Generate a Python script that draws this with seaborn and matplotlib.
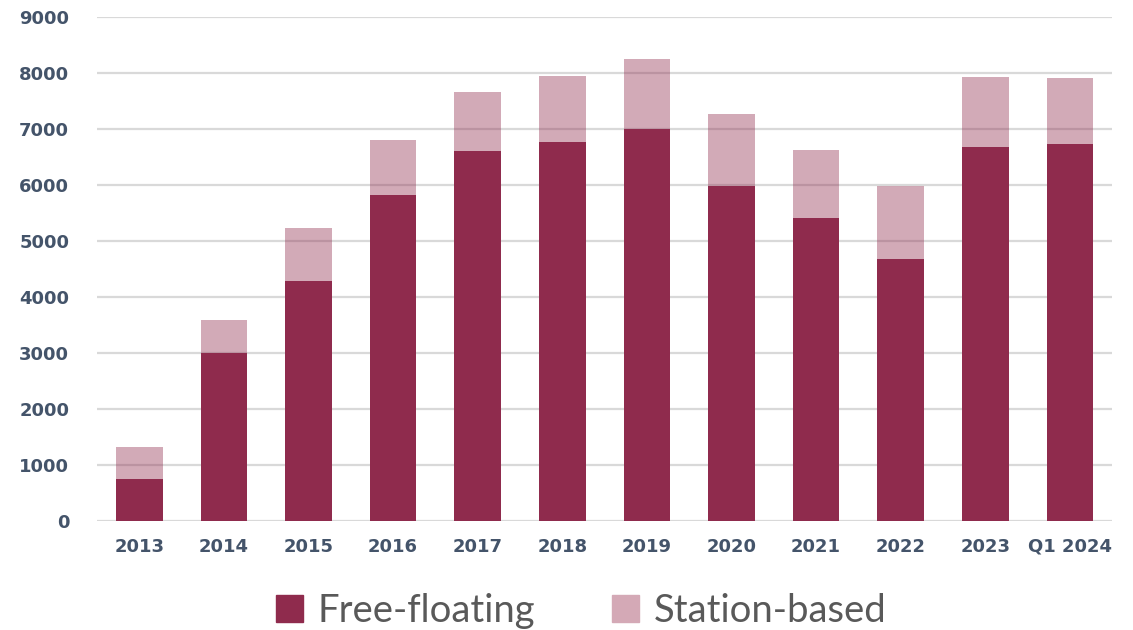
import matplotlib
matplotlib.use("Agg")
import matplotlib.pyplot as plt
import seaborn as sns
import pandas as pd
from matplotlib.patches import Patch

years = ["2013", "2014", "2015", "2016", "2017", "2018", "2019", "2020", "2021", "2022", "2023", "Q1 2024"]
free_floating = [750, 3000, 4290, 5820, 6610, 6770, 7000, 5980, 5410, 4680, 6680, 6730]
station_based = [570, 590, 940, 980, 1050, 1180, 1250, 1290, 1220, 1300, 1250, 1180]

dark = "#8F2B4D"
light = "#D4A9B6"
tick_col = "#44546A"

df = pd.DataFrame({"Year": years, "Free-floating": free_floating, "Station-based": station_based})
df["Total"] = df["Free-floating"] + df["Station-based"]

sns.set_style("white")
plt.rcParams["font.family"] = ["DejaVu Sans"]

fig = plt.figure(figsize=(11.33, 6.3), dpi=100)
ax = fig.add_axes([0.0856, 0.173, 0.896, 0.8])

# station-based drawn as full stack height (semi transparent), free-floating on top of it
sns.barplot(data=df, x="Year", y="Total", color=dark, alpha=0.4, width=0.55,
            saturation=1, ax=ax, zorder=2)
sns.barplot(data=df, x="Year", y="Free-floating", color=dark, width=0.55,
            saturation=1, ax=ax, zorder=3)
for p in ax.patches:
    p.set_linewidth(0)

ax.set_ylim(0, 9000)
ax.set_xlim(-0.5, len(years) - 0.5)
ax.set_yticks(range(0, 9001, 1000))
ax.yaxis.grid(True, color="#D9D9D9", linewidth=1.6, zorder=0)
ax.set_axisbelow(True)
sns.despine(ax=ax, left=True, bottom=True)
ax.tick_params(axis="both", length=0, colors=tick_col)
ax.tick_params(axis="x", pad=12, labelsize=13)
ax.tick_params(axis="y", pad=20, labelsize=13)
for t in ax.get_xticklabels() + ax.get_yticklabels():
    t.set_fontweight("bold")
ax.set_xlabel("")
ax.set_ylabel("")

handles = [Patch(color=dark, label="Free-floating"), Patch(color=light, label="Station-based")]
fig.legend(handles=handles, loc="center", bbox_to_anchor=(0.513, 0.03), ncol=2, frameon=False,
           prop={"family": "Lato", "size": 27.5}, labelcolor="#595959", handlelength=0.7,
           handleheight=0.7, handletextpad=0.4, columnspacing=2.0)

fig.savefig("out.png", dpi=100)
